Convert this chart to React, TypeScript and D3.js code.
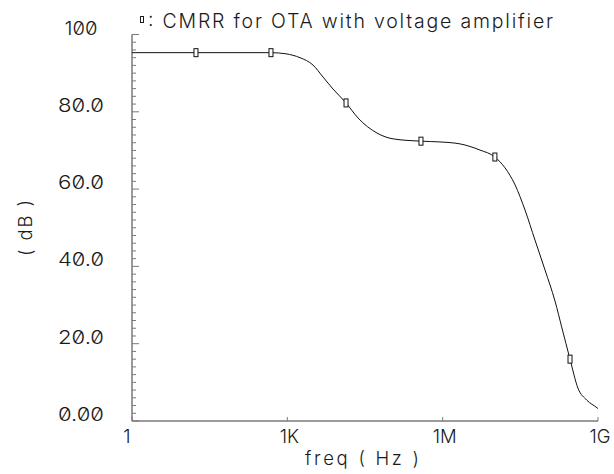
import React from "react";
import * as d3 from "d3";

const freqs = [1, 17.2, 122, 483, 942, 1757, 3130, 4890, 7620, 13600, 23200, 53900, 110000, 381000, 887000, 2.16e6, 5.26e6, 1.02e7, 1.6e7, 2.5e7, 3.89e7, 6.07e7, 9.46e7, 1.48e8, 2.01e8, 2.88e8, 4.1e8, 6.08e8, 9.6e8, 1e9];
const cmrr = [95.3, 95.3, 95.3, 95.3, 95.0, 94.0, 92.1, 89.0, 85.9, 82.3, 78.4, 74.5, 73.0, 72.4, 72.2, 71.7, 70.1, 68.3, 65.5, 61.1, 54.6, 46.8, 39.1, 31.0, 24.1, 16.0, 8.5, 5.4, 3.4, 3.2];
const markerFreqs = [17.2, 483, 13600, 381000, 1.02e7, 2.88e8];
const markerValues = [95.3, 95.3, 82.3, 72.4, 68.3, 16.0];
const xTickValues = [1, 1e3, 1e6, 1e9];
const xTickLabels = ["1", "1K", "1M", "1G"];
const yTickValues = [0, 20, 40, 60, 80, 100];
const yTickLabels = ["0.00", "20.0", "40.0", "60.0", "80.0", "100"];
const title = ": CMRR for OTA with voltage amplifier";
const xTitle = "freq ( Hz )";
const yTitle = "( dB )";

const FONT = "Inter, 'DejaVu Sans', sans-serif";
const AXIS = "#7a7a7a";
const INK = "#1a1a1a";

export default function App() {
  const x = d3.scaleLog().domain([1, 1e9]).range([132, 598]);
  const y = d3.scaleLinear().domain([0, 100]).range([421, 34.5]);
  const line = d3
    .line<number>()
    .x((_, i) => x(freqs[i]))
    .y((d) => y(d))
    .curve(d3.curveMonotoneX);
  const minor = d3.range(0, 101, 2);
  const textStyle: React.CSSProperties = { fontVariantNumeric: "slashed-zero", fontFeatureSettings: "'zero' 1" };
  return (
    <svg width={614} height={474} style={{ position: "absolute", left: 0, top: 0, background: "#fff" }} fontFamily={FONT} fontWeight={300}>
      <rect x={0} y={0} width={614} height={474} fill="#fff" />
      {/* y axis */}
      <line x1={x(1)} x2={x(1)} y1={y(100)} y2={y(0)} stroke={AXIS} strokeWidth={1.5} />
      {minor.map((v) => (
        <line key={v} x1={x(1)} x2={x(1) + (v % 20 === 0 ? 7 : 4)} y1={y(v)} y2={y(v)} stroke={AXIS} strokeWidth={1} />
      ))}
      {yTickValues.map((v, i) => (
        <text key={v} x={81} y={y(v)} fontSize={18.5} textAnchor="middle" fill={INK} style={textStyle}
          textLength={yTickLabels[i].length === 3 ? 33 : 46} lengthAdjust="spacingAndGlyphs">
          {yTickLabels[i]}
        </text>
      ))}
      {/* x axis */}
      <line x1={x(1)} x2={x(1e9)} y1={y(0)} y2={y(0)} stroke={AXIS} strokeWidth={1.5} />
      {xTickValues.map((v, i) => (
        <g key={v}>
          <line x1={x(v)} x2={x(v)} y1={y(0)} y2={y(0) - 4} stroke={AXIS} strokeWidth={1} />
          <text x={x(v) + (i === 0 ? -5 : 2)} y={443} fontSize={18.5} textAnchor="middle" fill={INK} style={textStyle}>
            {xTickLabels[i]}
          </text>
        </g>
      ))}
      <text x={362} y={465} fontSize={18.5} textAnchor="middle" fill={INK} textLength={114} lengthAdjust="spacing">
        {xTitle}
      </text>
      <text transform="translate(32,228) rotate(-90)" fontSize={18.5} textAnchor="middle" fill={INK} textLength={56} lengthAdjust="spacing">
        {yTitle}
      </text>
      {/* title */}
      <rect x={140.5} y={16.5} width={3} height={6} fill="#fff" stroke={INK} strokeWidth={1} />
      <text x={148} y={28} fontSize={19.5} fill={INK} textLength={405} lengthAdjust="spacing">
        {title}
      </text>
      {/* curve */}
      <path d={line(cmrr) || ""} fill="none" stroke="#111" strokeWidth={1} />
      {markerFreqs.map((f, i) => (
        <rect key={f} x={x(f) - 2} y={y(markerValues[i]) - 4} width={4} height={8} fill="#fff" stroke="#111" strokeWidth={1} />
      ))}
    </svg>
  );
}
